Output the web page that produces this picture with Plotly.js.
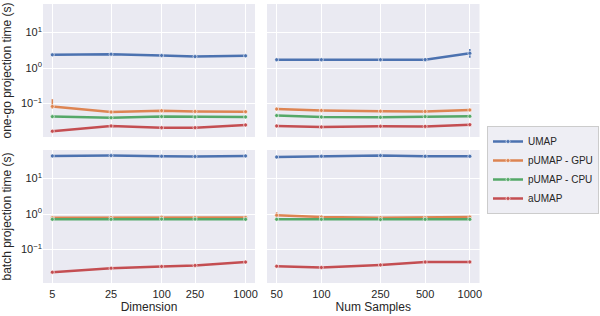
<!DOCTYPE html>
<html><head><meta charset="utf-8">
<script src="https://cdn.plot.ly/plotly-3.0.1.min.js"></script>
<style>body{margin:0;padding:0;background:#fff}#chart{width:600px;height:316px}</style>
</head><body><div id="chart"></div>
<script>
// Data
const dims = [5, 25, 100, 250, 1000];
const samples = [50, 100, 250, 500, 1000];
const methods = ['UMAP', 'pUMAP - GPU', 'pUMAP - CPU', 'aUMAP'];
const colors = ['#4C72B0', '#DD8452', '#55A868', '#C44E52'];

// one-go projection time vs dimension
const onegoDimUMAP = [2.35, 2.45, 2.25, 2.1, 2.2];
const onegoDimGPU  = [0.083, 0.058, 0.063, 0.060, 0.059];
const onegoDimCPU  = [0.043, 0.040, 0.043, 0.042, 0.042];
const onegoDimA    = [0.0167, 0.0235, 0.021, 0.021, 0.025];
// one-go projection time vs samples
const onegoSampUMAP = [1.71, 1.71, 1.71, 1.72, 2.6];
const onegoSampGPU  = [0.070, 0.064, 0.061, 0.060, 0.066];
const onegoSampCPU  = [0.046, 0.042, 0.041, 0.043, 0.044];
const onegoSampA    = [0.0235, 0.022, 0.023, 0.0228, 0.0255];
// batch projection time vs dimension
const batchDimUMAP = [43, 44, 42, 41.5, 43];
const batchDimGPU  = [0.78, 0.79, 0.81, 0.80, 0.80];
const batchDimCPU  = [0.71, 0.71, 0.72, 0.72, 0.71];
const batchDimA    = [0.0231, 0.030, 0.0335, 0.0358, 0.0445];
// batch projection time vs samples
const batchSampUMAP = [40, 42, 44, 42, 42];
const batchSampGPU  = [0.92, 0.82, 0.785, 0.785, 0.82];
const batchSampCPU  = [0.71, 0.71, 0.70, 0.71, 0.71];
const batchSampA    = [0.034, 0.0314, 0.037, 0.0446, 0.045];

// error bars (upper, lower) — only visible ones
const errOnegoDimGPU = {plus: [0.05, 0.004, 0.003, 0.002, 0.002], minus: [0.012, 0.003, 0.003, 0.002, 0.002]};
const errOnegoSampUMAP = {plus: [0.03, 0.03, 0.03, 0.03, 0.85], minus: [0.03, 0.03, 0.03, 0.03, 0.66]};
const errBatchSampGPU = {plus: [0.2, 0.02, 0.02, 0.02, 0.02], minus: [0.05, 0.02, 0.02, 0.02, 0.02]};

const yTickVals = [0.1, 1, 10];
const yTickText = ['10<sup>−1</sup>', '10<sup>0</sup>', '10<sup>1</sup>'];

const panels = [
  {x: dims, ys: [onegoDimUMAP, onegoDimGPU, onegoDimCPU, onegoDimA], err: {1: errOnegoDimGPU}, xa: 'x', ya: 'y'},
  {x: samples, ys: [onegoSampUMAP, onegoSampGPU, onegoSampCPU, onegoSampA], err: {0: errOnegoSampUMAP}, xa: 'x2', ya: 'y2'},
  {x: dims, ys: [batchDimUMAP, batchDimGPU, batchDimCPU, batchDimA], err: {}, xa: 'x3', ya: 'y3'},
  {x: samples, ys: [batchSampUMAP, batchSampGPU, batchSampCPU, batchSampA], err: {1: errBatchSampGPU}, xa: 'x4', ya: 'y4'}
];

const traces = [];
panels.forEach((p, pi) => {
  p.ys.forEach((ys, mi) => {
    const t = {
      x: p.x, y: ys, xaxis: p.xa, yaxis: p.ya, type: 'scatter', mode: 'lines+markers',
      name: methods[mi], legendgroup: methods[mi], showlegend: pi === 0,
      line: {color: colors[mi], width: 2.5},
      marker: {color: colors[mi], size: 4, line: {color: '#ffffff', width: 0.6}}
    };
    if (p.err[mi]) {
      t.error_y = {type: 'data', symmetric: false, array: p.err[mi].plus, arrayminus: p.err[mi].minus,
                   color: colors[mi], thickness: 1.5, width: 0};
    }
    traces.push(t);
  });
});

const font = {family: 'Liberation Sans, Arial, sans-serif', size: 11, color: '#262626'};
const W = 600, H = 316;
const xL = [43 / W, 255 / W], xR = [267 / W, 479.5 / W];
const yT = [(H - 137) / H, (H - 4) / H], yB = [(H - 283) / H, (H - 150) / H];
const yRange = [-1.94, 1.80];
const dimRange = [0.588, 3.112];
const sampRange = [1.634, 3.065];

function xax(domain, range, vals, showLabels, anchor, title) {
  return {domain: domain, type: 'log', range: range, tickvals: vals, ticktext: vals.map(String),
    showticklabels: showLabels, anchor: anchor, showgrid: true, gridcolor: '#ffffff', gridwidth: 1,
    zeroline: false, showline: false, ticks: '', ticklabelstandoff: 3, tickfont: {size: 11, color: '#262626'},
    title: title ? {text: title, font: {size: 12, color: '#262626'}, standoff: 3} : undefined};
}
function yax(domain, showLabels, anchor, title) {
  return {domain: domain, type: 'log', range: yRange, tickvals: yTickVals, ticktext: yTickText,
    showticklabels: showLabels, anchor: anchor, showgrid: true, gridcolor: '#ffffff', gridwidth: 1,
    zeroline: false, showline: false, ticks: '', tickfont: {size: 11, color: '#262626'},
    title: title ? {text: title, font: {size: 12, color: '#262626'}, standoff: 6} : undefined};
}

const layout = {
  width: W, height: H, margin: {l: 0, r: 0, t: 0, b: 0},
  paper_bgcolor: '#ffffff', plot_bgcolor: '#EAEAF2', font: font,
  showlegend: true,
  legend: {x: 487 / W, y: 1 - 126 / H, xanchor: 'left', yanchor: 'top',
    bgcolor: '#EEEEF4', bordercolor: '#CCCCCC', borderwidth: 1, font: {size: 10, color: '#262626'},
    tracegroupgap: 0, itemwidth: 30},
  xaxis: xax(xL, dimRange, dims, false, 'y'),
  yaxis: yax(yT, true, 'x', 'one-go projection time (s)'),
  xaxis2: xax(xR, sampRange, samples, false, 'y2'),
  yaxis2: yax(yT, false, 'x2'),
  xaxis3: xax(xL, dimRange, dims, true, 'y3', 'Dimension'),
  yaxis3: yax(yB, true, 'x3', 'batch projection time (s)'),
  xaxis4: xax(xR, sampRange, samples, true, 'y4', 'Num Samples'),
  yaxis4: yax(yB, false, 'x4')
};

Plotly.newPlot('chart', traces, layout, {staticPlot: true, displayModeBar: false});
</script></body></html>
